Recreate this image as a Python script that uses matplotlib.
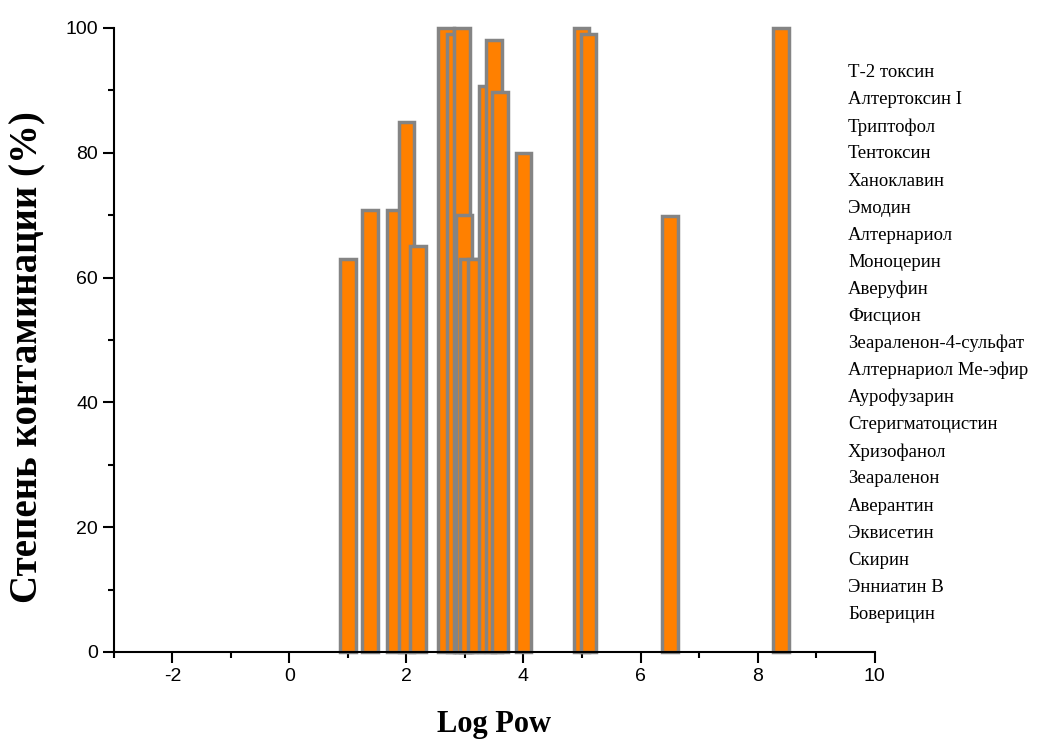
import matplotlib.pyplot as plt
from matplotlib.ticker import MultipleLocator

plt.rcParams["axes.unicode_minus"] = False

# Log Pow и степень контаминации (%)
log_pow = [1.0, 1.38, 1.8, 2.0, 2.2, 2.68, 2.83, 2.95, 2.99, 3.05, 3.18,
           3.38, 3.5, 3.6, 4.0, 4.99, 5.11, 6.51, 8.4]
contam = [63, 70.8, 70.8, 85, 65, 100, 99, 100, 70, 63, 63,
          90.7, 98, 89.7, 80, 100, 99, 69.8, 100]

names = ["Т-2 токсин", "Алтертоксин I", "Триптофол", "Тентоксин", "Ханоклавин",
         "Эмодин", "Алтернариол", "Моноцерин", "Аверуфин", "Фисцион",
         "Зеараленон-4-сульфат", "Алтернариол Ме-эфир", "Аурофузарин",
         "Стеригматоцистин", "Хризофанол", "Зеараленон", "Аверантин",
         "Эквисетин", "Скирин", "Энниатин В", "Боверицин"]

fig = plt.figure(figsize=(10.64, 7.42), dpi=100)
ax = fig.add_axes([0.107, 0.1213, 0.715, 0.841])

ax.bar(log_pow, contam, width=0.27, color="#FF8000", edgecolor="#848484",
       linewidth=2.5, zorder=2, clip_on=False)

ax.set_xlim(-3, 10)
ax.set_ylim(0, 100)
ax.xaxis.set_major_locator(MultipleLocator(2))
ax.xaxis.set_minor_locator(MultipleLocator(1))
ax.yaxis.set_major_locator(MultipleLocator(20))
ax.yaxis.set_minor_locator(MultipleLocator(10))

for s in ["top", "right"]:
    ax.spines[s].set_visible(False)
for s in ["left", "bottom"]:
    ax.spines[s].set_linewidth(1.5)

ax.tick_params(which="major", direction="out", length=8, width=1.5,
               labelsize=14, labelfontfamily="Liberation Sans")
ax.tick_params(which="minor", direction="out", length=4, width=1.5)

ax.set_xlabel("Log Pow", fontsize=22, fontweight="bold",
              family="Liberation Serif", labelpad=18)
ax.set_ylabel("Степень контаминации (%)", fontsize=28, fontweight="bold",
              family="Liberation Serif")
ax.yaxis.set_label_coords(-0.088, 0.473)

for i, n in enumerate(names):
    fig.text(0.797, 0.902 - i * 0.0365, n, fontsize=13.5,
             family="Liberation Serif", va="center", ha="left")

fig.savefig("out.png", dpi=100)
